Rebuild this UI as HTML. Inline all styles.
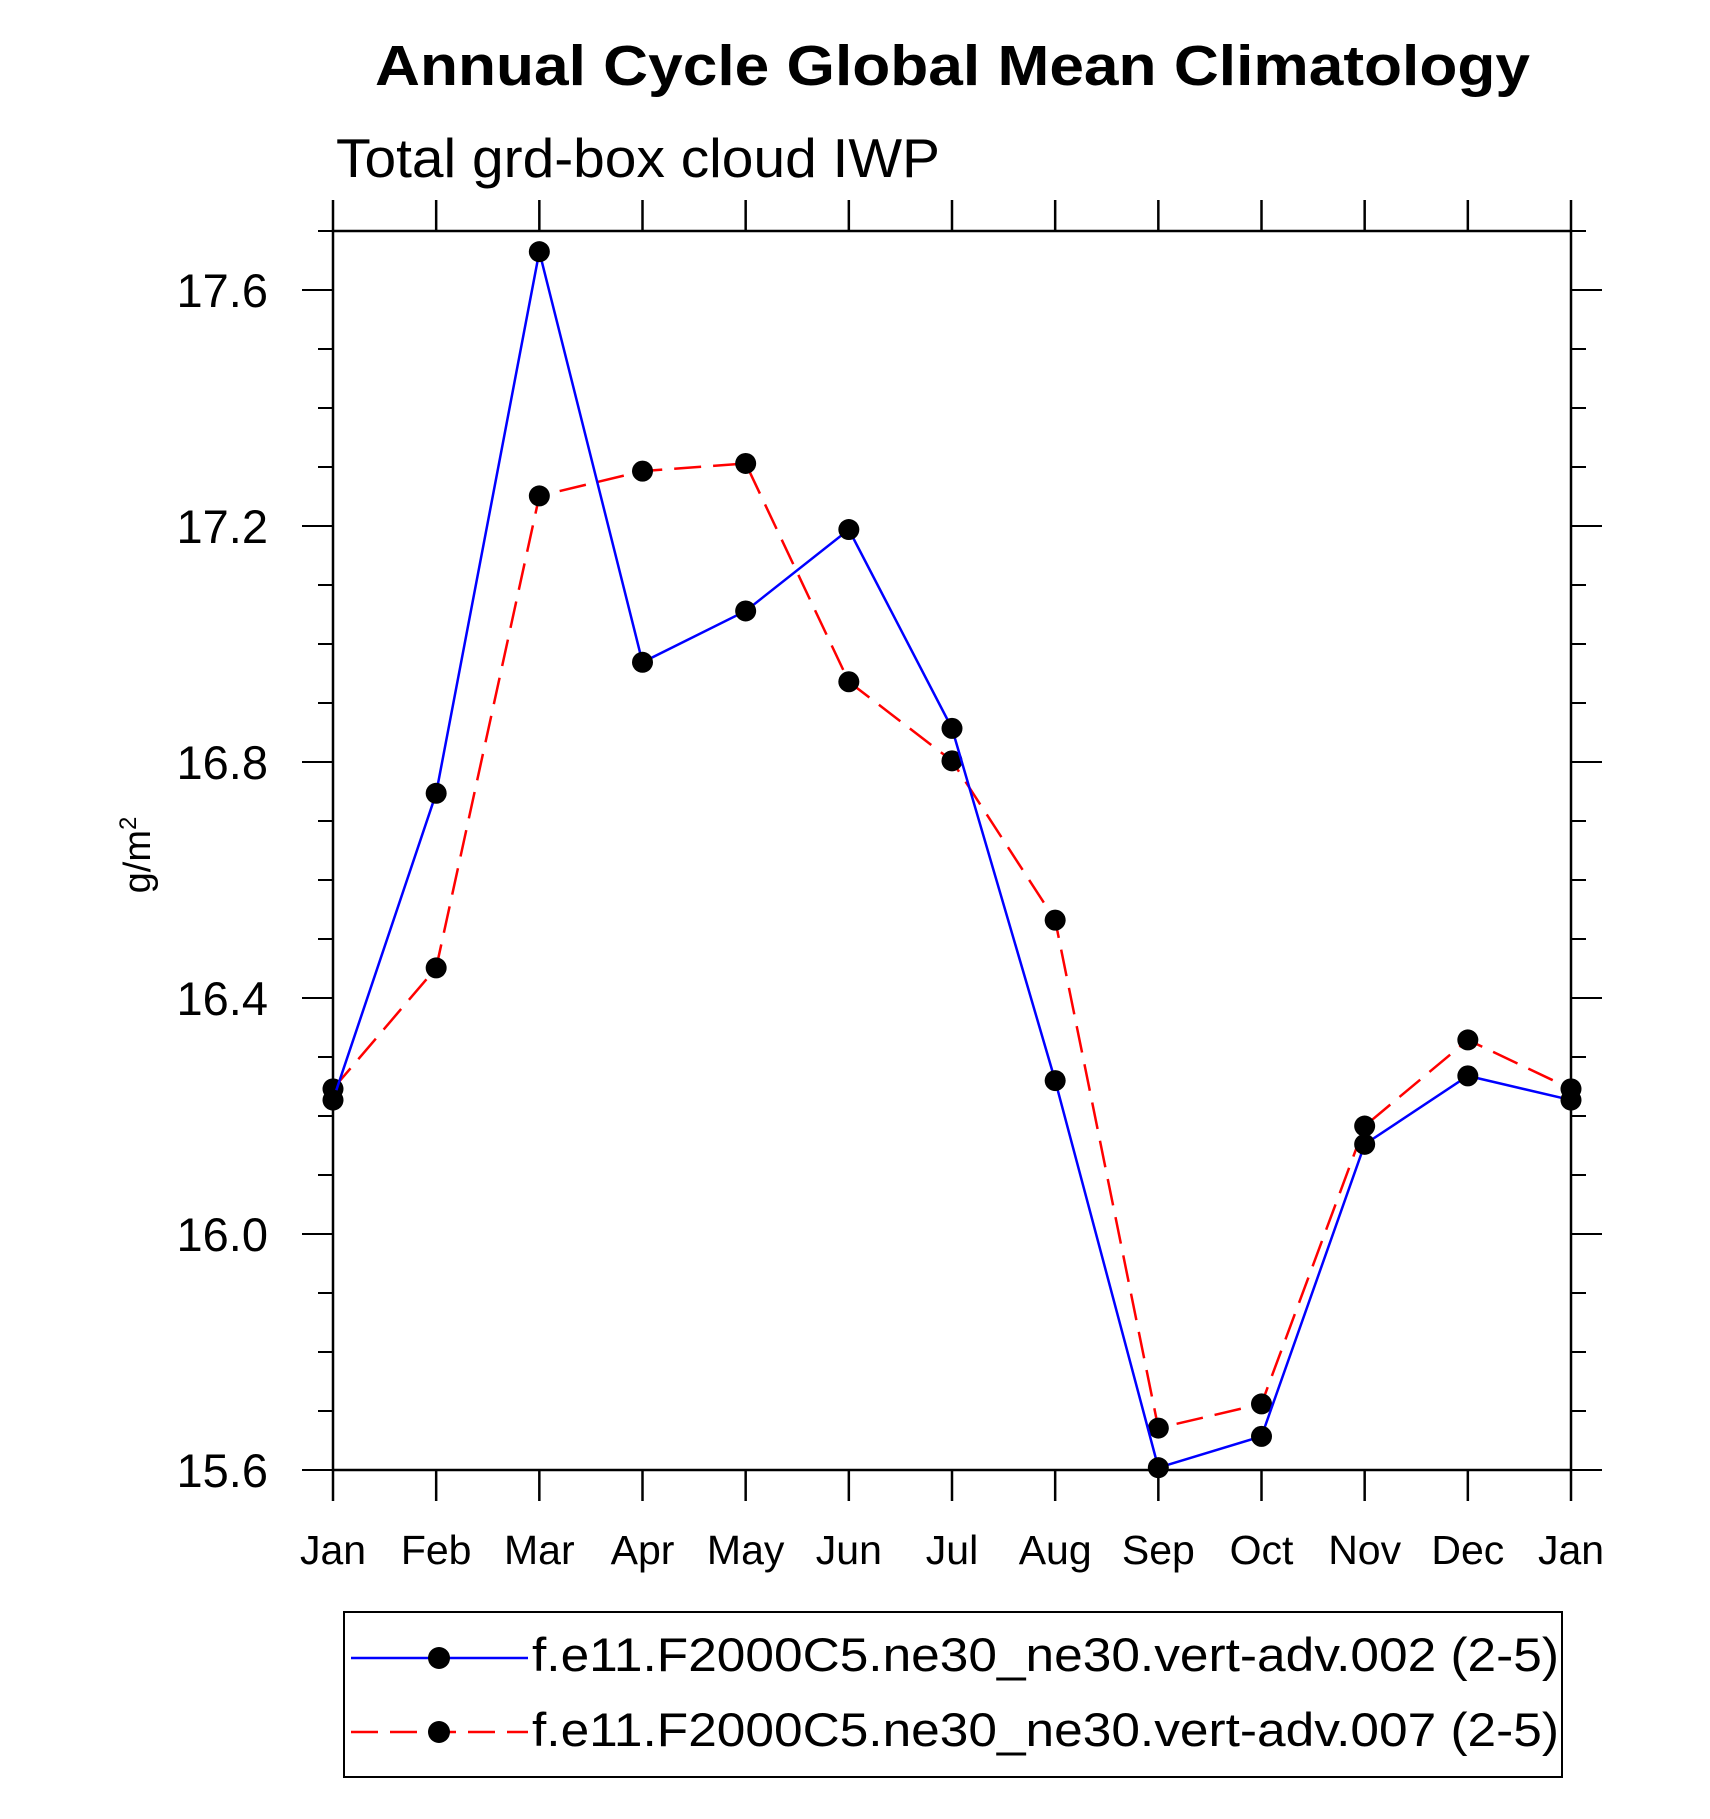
<!DOCTYPE html>
<html><head><meta charset="utf-8"><style>
html,body{margin:0;padding:0;background:#fff;}
svg{display:block;font-family:"Liberation Sans",Arial,sans-serif;}
</style></head><body>
<svg id="chart" width="1710" height="1819" viewBox="0 0 1710 1819">
<text x="375" y="85" font-size="57" font-weight="bold" textLength="1155" lengthAdjust="spacingAndGlyphs">Annual Cycle Global Mean Climatology</text>
<text x="336" y="177" font-size="55" textLength="604" lengthAdjust="spacingAndGlyphs">Total grd-box cloud IWP</text>
<text transform="translate(150,855) rotate(-90)" text-anchor="middle" font-size="38">g/m<tspan dy="-14" font-size="24">2</tspan></text>
<g id="axes"></g>
<g id="series"></g>
<g id="legend">
<rect x="344" y="1612" width="1218" height="165" fill="none" stroke="#000" stroke-width="2"/>
<g>
<line x1="351" y1="1658" x2="528" y2="1658" stroke="#0000ff" stroke-width="2.5"/>
<circle cx="439" cy="1658" r="11" fill="#000"/>
<text x="532" y="1671" font-size="47" textLength="1027" lengthAdjust="spacingAndGlyphs">f.e11.F2000C5.ne30_ne30.vert-adv.002 (2-5)</text>
</g>
<g>
<line x1="351" y1="1732" x2="528" y2="1732" stroke="#ff0000" stroke-width="2.5" stroke-dasharray="27,12"/>
<circle cx="439" cy="1732" r="11" fill="#000"/>
<text x="532" y="1746" font-size="47" textLength="1027" lengthAdjust="spacingAndGlyphs">f.e11.F2000C5.ne30_ne30.vert-adv.007 (2-5)</text>
</g>
</g>
</svg>
<script>
const months = ["Jan","Feb","Mar","Apr","May","Jun","Jul","Aug","Sep","Oct","Nov","Dec","Jan"];
const series002 = [16.227,16.747,17.665,16.969,17.056,17.194,16.857,16.260,15.604,15.657,16.152,16.268,16.227];
const series007 = [16.246,16.451,17.251,17.293,17.306,16.936,16.802,16.532,15.671,15.712,16.183,16.329,16.246];
const yTickLabels = ["15.6","16.0","16.4","16.8","17.2","17.6"];
const yMin = 15.6, yMax = 17.7;

const L=333, R=1571, T=231, B=1470;
const NS="http://www.w3.org/2000/svg";
function xs(i){return L+(R-L)*i/(months.length-1);}
function ys(v){return B-(B-T)*(v-yMin)/(yMax-yMin);}
function mk(tag,attrs,parent){const e=document.createElementNS(NS,tag);for(const k in attrs)e.setAttribute(k,attrs[k]);parent.appendChild(e);return e;}
const axes=document.getElementById('axes');
const frame=mk('rect',{x:L,y:T,width:R-L,height:B-T,fill:'none',stroke:'#000','stroke-width':2.5},axes);


months.forEach((m,i)=>{
  const x=xs(i);
  mk('line',{x1:x,y1:B,x2:x,y2:B+31,stroke:'#000','stroke-width':2.5},axes);
  mk('line',{x1:x,y1:T,x2:x,y2:T-31,stroke:'#000','stroke-width':2.5},axes);
  const t=mk('text',{x:x,y:1564,'text-anchor':'middle','font-size':41},axes);
  t.textContent=m;
  
  
});
for(let k=0;k<=21;k++){
  const v=yMin+k*0.1; const y=ys(v);
  const major=(k%4===0);
  const len=major?31:15;
  mk('line',{x1:L,y1:y,x2:L-len,y2:y,stroke:'#000','stroke-width':2},axes);
  mk('line',{x1:R,y1:y,x2:R+len,y2:y,stroke:'#000','stroke-width':2},axes);
}
yTickLabels.forEach(s=>{
  const t=mk('text',{x:268,y:ys(parseFloat(s))+17,'text-anchor':'end','font-size':47},axes);
  t.textContent=s;
  
  
});
const sg=document.getElementById('series');
function draw(vals,color,dash,name){
  const pts=vals.map((v,i)=>xs(i)+','+ys(v)).join(' ');
  const a={points:pts,fill:'none',stroke:color,'stroke-width':2.5};
  if(dash)a['stroke-dasharray']=dash;
  const pl=mk('polyline',a,sg);
  
  
  vals.forEach((v,i)=>{
    const c=mk('circle',{cx:xs(i),cy:ys(v),r:10.5,fill:'#000'},sg);
    
    
  });
}
draw(series007,'#ff0000','27,12','series-007');
draw(series002,'#0000ff',null,'series-002');
</script>
</body></html>
